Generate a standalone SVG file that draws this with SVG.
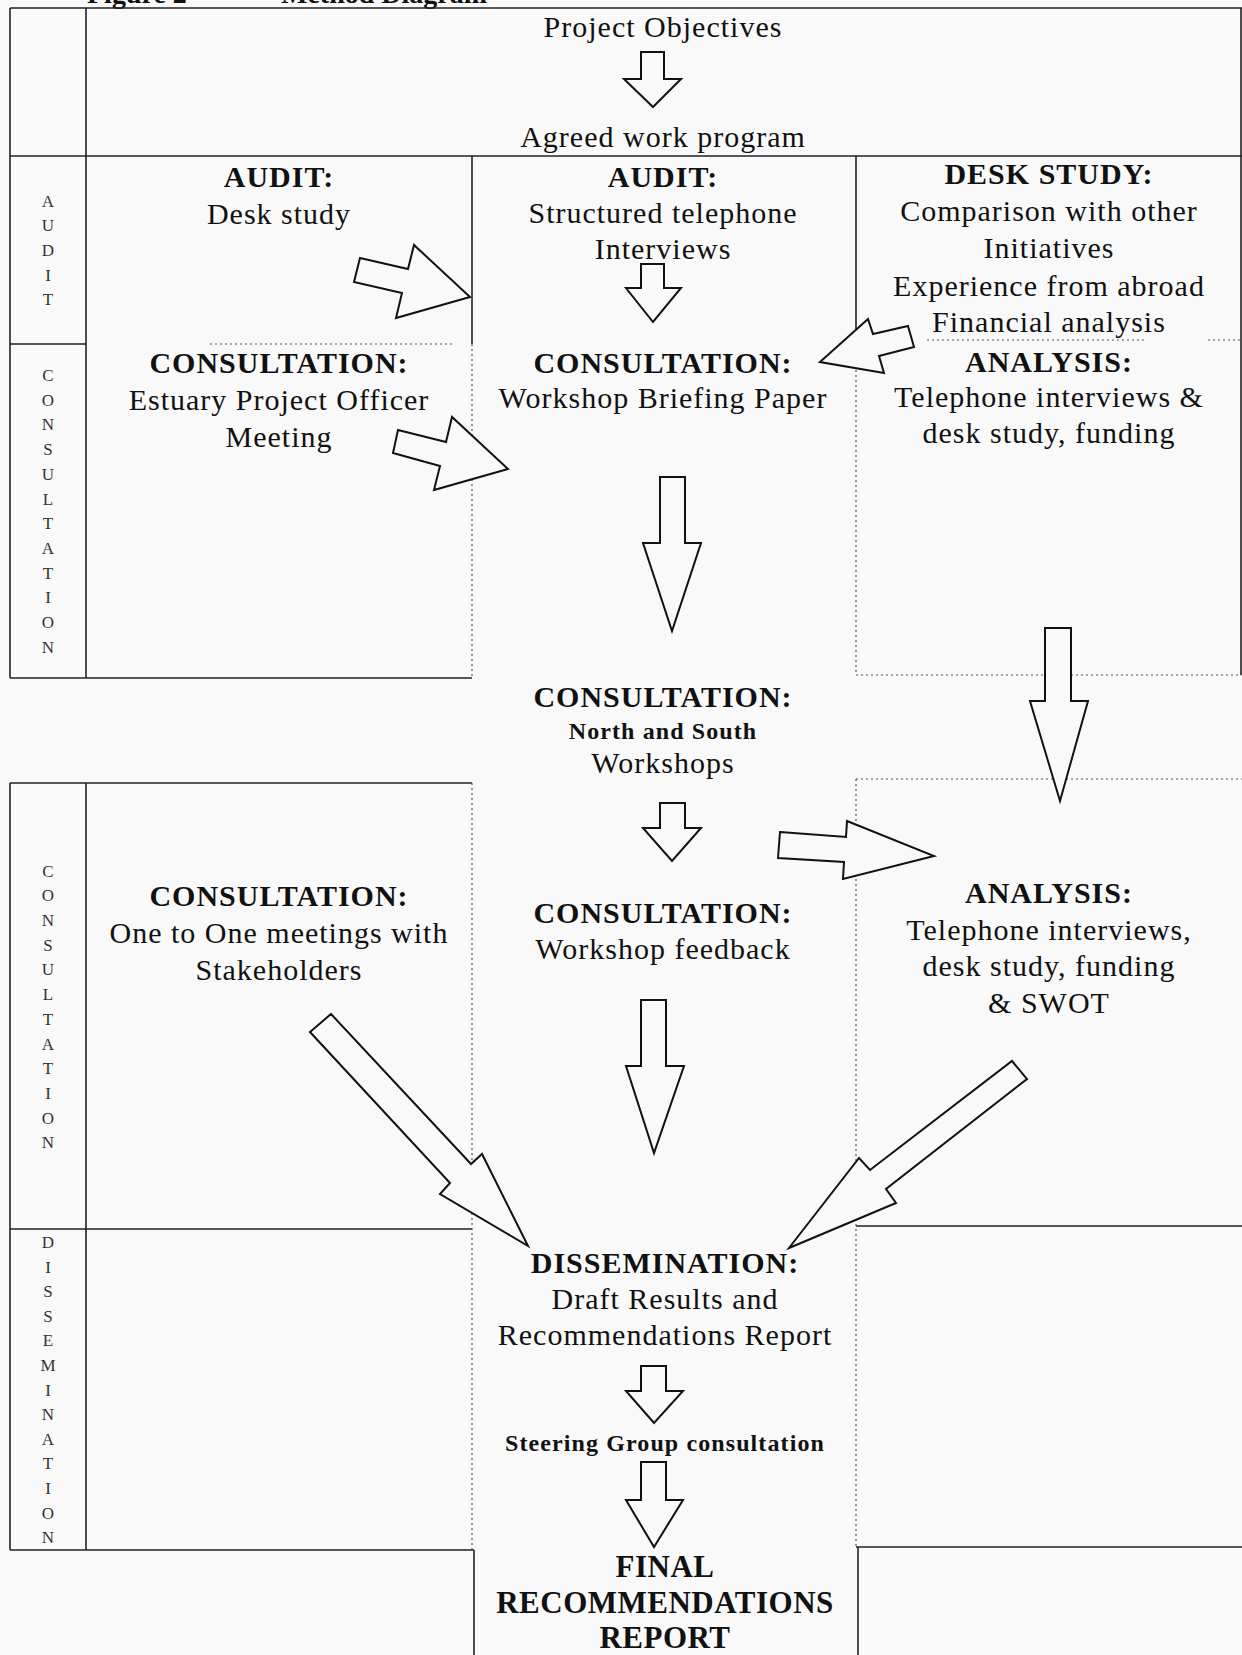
<svg xmlns="http://www.w3.org/2000/svg" width="1242" height="1655" viewBox="0 0 1242 1655">
<style>
.t{font-family:"Liberation Serif","Times New Roman",serif;font-size:30px;text-anchor:middle;letter-spacing:1px;fill:#111}
.b{font-weight:bold}
.s{font-size:24px;letter-spacing:1.1px}
.f{font-size:31px;letter-spacing:0.5px}
.lab{font-family:"Liberation Serif","Times New Roman",serif;font-size:17px;text-anchor:middle;fill:#333}
.ttl{font-family:"Liberation Serif","Times New Roman",serif;font-size:28px;font-weight:bold;fill:#111}
.solid{fill:none;stroke:#222;stroke-width:1.6}
.dot{fill:none;stroke:#555;stroke-width:1.2;stroke-dasharray:2 3}
.arr{fill:#f9f9f9;stroke:#111;stroke-width:2;stroke-linejoin:miter}
</style>
<rect width="1242" height="1655" fill="#f9f9f9"/>
<g id="title">
<text class="ttl" x="87" y="3">Figure 2</text>
<text class="ttl" x="281" y="3">Method Diagram</text>
</g>
<g id="grid">
<path class="solid" d="M10 8H1242M10 8V678M86 8V678M10 156H1242M10 344H86M472 156V344M856 156V330M10 678H472M1241 8V675"/>
<path class="solid" d="M10 783H472M10 783V1550M86 783V1550M10 1229H472M10 1550H474M474 1550V1655M856 1226H1242M856 1547H1242M858 1547V1655"/>
<path class="dot" d="M210 344H452M472 344V678M856 340V675M927 340H1145M1208 340H1242M856 675H1242M856 779H1242M472 783V1550M856 779V1547"/>
</g>
<g id="side-labels">
<text class="lab" x="48" y="206.6"><tspan x="48">A</tspan><tspan x="48" dy="24.7">U</tspan><tspan x="48" dy="24.7">D</tspan><tspan x="48" dy="24.7">I</tspan><tspan x="48" dy="24.7">T</tspan></text>
<text class="lab" x="48" y="381"><tspan x="48">C</tspan><tspan x="48" dy="24.7">O</tspan><tspan x="48" dy="24.7">N</tspan><tspan x="48" dy="24.7">S</tspan><tspan x="48" dy="24.7">U</tspan><tspan x="48" dy="24.7">L</tspan><tspan x="48" dy="24.7">T</tspan><tspan x="48" dy="24.7">A</tspan><tspan x="48" dy="24.7">T</tspan><tspan x="48" dy="24.7">I</tspan><tspan x="48" dy="24.7">O</tspan><tspan x="48" dy="24.7">N</tspan></text>
<text class="lab" x="48" y="876.6"><tspan x="48">C</tspan><tspan x="48" dy="24.7">O</tspan><tspan x="48" dy="24.7">N</tspan><tspan x="48" dy="24.7">S</tspan><tspan x="48" dy="24.7">U</tspan><tspan x="48" dy="24.7">L</tspan><tspan x="48" dy="24.7">T</tspan><tspan x="48" dy="24.7">A</tspan><tspan x="48" dy="24.7">T</tspan><tspan x="48" dy="24.7">I</tspan><tspan x="48" dy="24.7">O</tspan><tspan x="48" dy="24.7">N</tspan></text>
<text class="lab" x="48" y="1248"><tspan x="48">D</tspan><tspan x="48" dy="24.6">I</tspan><tspan x="48" dy="24.6">S</tspan><tspan x="48" dy="24.6">S</tspan><tspan x="48" dy="24.6">E</tspan><tspan x="48" dy="24.6">M</tspan><tspan x="48" dy="24.6">I</tspan><tspan x="48" dy="24.6">N</tspan><tspan x="48" dy="24.6">A</tspan><tspan x="48" dy="24.6">T</tspan><tspan x="48" dy="24.6">I</tspan><tspan x="48" dy="24.6">O</tspan><tspan x="48" dy="24.6">N</tspan></text>
</g>
<g id="connectors">
<polygon class="arr" points="641,52 664,52 664,79 681,79 653,107 624,79 641,79"/>
<polygon class="arr" points="641,264 664,264 664,288 681,288 653,322 626,288 641,288"/>
<polygon class="arr" points="660,477 685,477 685,543 701,543 672,631 643,543 660,543"/>
<polygon class="arr" points="1045,628 1071,628 1071,701 1088,701 1060,801 1030,701 1045,701"/>
<polygon class="arr" points="660,803 685,803 685,828 701,828 672,861 643,828 660,828"/>
<polygon class="arr" points="641,1000 666,1000 666,1066 684,1066 654,1153 626,1066 641,1066"/>
<polygon class="arr" points="641,1366 666,1366 666,1391 683,1391 654,1423 626,1391 641,1391"/>
<polygon class="arr" points="641,1462 666,1462 666,1500 683,1500 654,1547 626,1500 641,1500"/>
<polygon class="arr" points="360,258 408,269 414,245 470,297 396,318 402,293 354,282"/>
<polygon class="arr" points="398,430 446,442 452,417 508,469 434,490 440,466 393,453"/>
<polygon class="arr" points="820,362 868,319 873,334 908,326 914,347 879,356 884,373"/>
<polygon class="arr" points="780,832 846,837 847,821 934,856 843,879 844,862 778,858"/>
<polygon class="arr" points="331,1014 471,1164 482,1154 528,1246 440,1194 450,1183 310,1032"/>
<polygon class="arr" points="1012,1061 1027,1079 886,1189 896,1203 789,1248 859,1158 870,1170"/>
</g>
<g id="node-objectives"><text class="t" x="663" y="37">Project Objectives</text></g>
<g id="node-workprogram"><text class="t" x="663" y="147">Agreed work program</text></g>
<g id="node-audit-desk"><text class="t b" x="279" y="187">AUDIT:</text><text class="t" x="279" y="224">Desk study</text></g>
<g id="node-audit-phone"><text class="t b" x="663" y="187">AUDIT:</text><text class="t" x="663" y="223">Structured telephone</text><text class="t" x="663" y="259">Interviews</text></g>
<g id="node-deskstudy"><text class="t b" x="1049" y="184">DESK STUDY:</text><text class="t" x="1049" y="221">Comparison with other</text><text class="t" x="1049" y="258">Initiatives</text><text class="t" x="1049" y="296">Experience from abroad</text><text class="t" x="1049" y="332">Financial analysis</text></g>
<g id="node-estuary"><text class="t b" x="279" y="373">CONSULTATION:</text><text class="t" x="279" y="410">Estuary Project Officer</text><text class="t" x="279" y="447">Meeting</text></g>
<g id="node-briefing"><text class="t b" x="663" y="373">CONSULTATION:</text><text class="t" x="663" y="408">Workshop Briefing Paper</text></g>
<g id="node-analysis1"><text class="t b" x="1049" y="372">ANALYSIS:</text><text class="t" x="1049" y="407">Telephone interviews &amp;</text><text class="t" x="1049" y="443">desk study, funding</text></g>
<g id="node-workshops"><text class="t b" x="663" y="707">CONSULTATION:</text><text class="t b s" x="663" y="739">North and South</text><text class="t" x="663" y="773">Workshops</text></g>
<g id="node-onetoone"><text class="t b" x="279" y="906">CONSULTATION:</text><text class="t" x="279" y="943">One to One meetings with</text><text class="t" x="279" y="980">Stakeholders</text></g>
<g id="node-feedback"><text class="t b" x="663" y="923">CONSULTATION:</text><text class="t" x="663" y="959">Workshop feedback</text></g>
<g id="node-analysis2"><text class="t b" x="1049" y="903">ANALYSIS:</text><text class="t" x="1049" y="940">Telephone interviews,</text><text class="t" x="1049" y="976">desk study, funding</text><text class="t" x="1049" y="1013">&amp; SWOT</text></g>
<g id="node-dissemination"><text class="t b" x="665" y="1273">DISSEMINATION:</text><text class="t" x="665" y="1309">Draft Results and</text><text class="t" x="665" y="1345">Recommendations Report</text></g>
<g id="node-steering"><text class="t b s" x="665" y="1451">Steering Group consultation</text></g>
<g id="node-final"><text class="t b f" x="665" y="1577">FINAL</text><text class="t b f" x="665" y="1613">RECOMMENDATIONS</text><text class="t b f" x="665" y="1648">REPORT</text></g>
</svg>
